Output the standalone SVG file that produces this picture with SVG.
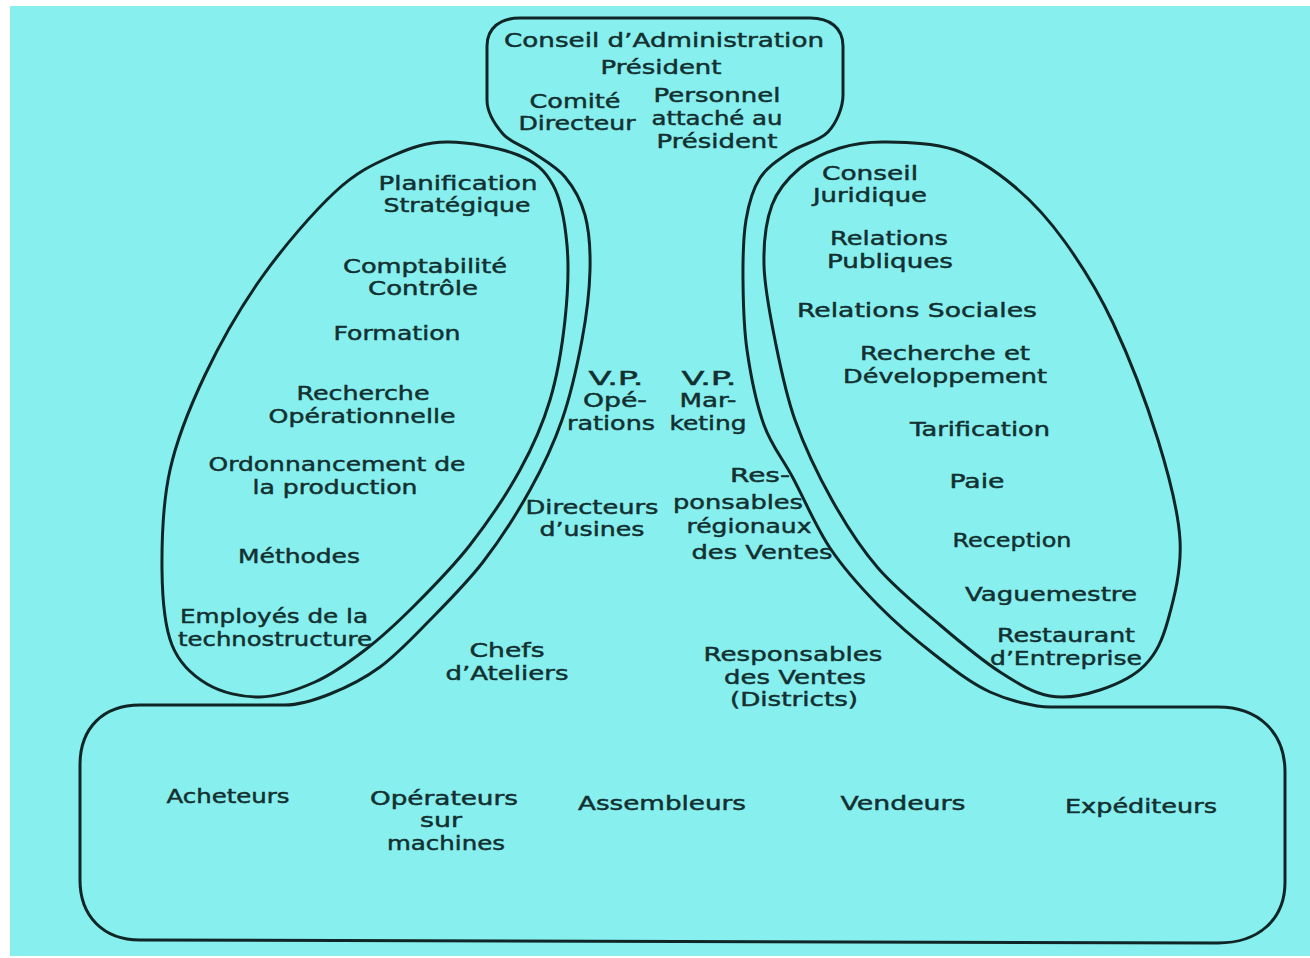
<svg xmlns="http://www.w3.org/2000/svg" width="1310" height="958" viewBox="0 0 1310 958">
<style>
.bg{fill:#88efef}
.ln{fill:none;stroke:#102626;stroke-width:3;stroke-linejoin:round}
text{font-family:"DejaVu Sans","Liberation Sans",sans-serif;font-size:19px;fill:#123030;stroke:#123030;stroke-width:0.45;text-anchor:middle}
</style>
<rect width="1310" height="958" fill="#ffffff"/>
<rect class="bg" x="10" y="6" width="1300" height="950"/>
<g id="outline">
<path class="ln" d="M487,100 L487,46 C487,28 500,18 520,18 L810,18 C830,18 843,28 843,46 L843,95 C843,107 836.8,122.5 828,132 C819.2,141.5 801.3,144.3 790,152 C778.7,159.7 767.3,166.7 760,178 C752.7,189.3 748.8,203 746,220 C743.2,237 742.8,258.3 743,280 C743.2,301.7 743.5,325.8 747,350 C750.5,374.2 756.3,403.7 764,425 C771.7,446.3 782,457.5 793,478 C804,498.5 815.8,526.8 830,548 C844.2,569.2 860.5,587.2 878,605 C895.5,622.8 916.3,640.5 935,655 C953.7,669.5 970.8,683.3 990,692 C1009.2,700.7 1035,707 1050,707 L1218,707 C1258,707 1285,732 1285,772 L1285,882 C1285,920 1258,943 1218,943 L140,940 C103,940 80,916 80,880 L80,765 C80,728 103,705 140,705 L285,705 C300,705 314.2,700.3 330,694 C345.8,687.7 363.7,679 380,667 C396.3,655 410.8,639.5 428,622 C445.2,604.5 466,584 483,562 C500,540 516.8,513.7 530,490 C543.2,466.3 553.3,445 562,420 C570.7,395 577.3,365 582,340 C586.7,315 589.5,290.8 590,270 C590.5,249.2 589.2,230.5 585,215 C580.8,199.5 573.8,187.5 565,177 C556.2,166.5 542.3,159.2 532,152 C521.7,144.8 510.5,142.7 503,134 C495.5,125.3 487,112 487,100 Z"/>
</g>
<g id="strategic-apex">
<text x="664" y="47" textLength="320" lengthAdjust="spacingAndGlyphs">Conseil d’Administration</text>
<text x="661" y="74" textLength="121" lengthAdjust="spacingAndGlyphs">Président</text>
<text x="575" y="108" textLength="91" lengthAdjust="spacingAndGlyphs">Comité</text>
<text x="577" y="130" textLength="117" lengthAdjust="spacingAndGlyphs">Directeur</text>
<text x="717" y="102" textLength="127" lengthAdjust="spacingAndGlyphs">Personnel</text>
<text x="717" y="125" textLength="131" lengthAdjust="spacingAndGlyphs">attaché au</text>
<text x="717" y="148" textLength="121" lengthAdjust="spacingAndGlyphs">Président</text>
</g>
<g id="technostructure">
<path class="ln" d="M447,142 C468,141.8 500.3,147.8 518,155 C535.7,162.2 544.8,170 553,185 C561.2,200 565,222.5 567,245 C569,267.5 567.8,294.2 565,320 C562.2,345.8 557.5,375 550,400 C542.5,425 533.3,445.8 520,470 C506.7,494.2 487.5,522.5 470,545 C452.5,567.5 432.5,587.5 415,605 C397.5,622.5 381.7,637.2 365,650 C348.3,662.8 332.5,674.2 315,682 C297.5,689.8 278,696.7 260,697 C242,697.3 221.7,692.7 207,684 C192.3,675.3 179.5,664 172,645 C164.5,626 162.3,599.2 162,570 C161.7,540.8 162.8,502.5 170,470 C177.2,437.5 189.7,407.2 205,375 C220.3,342.8 240.3,307.5 262,277 C283.7,246.5 313.3,212.2 335,192 C356.7,171.8 373.3,164.3 392,156 C410.7,147.7 426,142.2 447,142 Z"/>
<text x="458" y="190" textLength="159" lengthAdjust="spacingAndGlyphs">Planification</text>
<text x="457" y="212" textLength="147" lengthAdjust="spacingAndGlyphs">Stratégique</text>
<text x="425" y="273" textLength="164" lengthAdjust="spacingAndGlyphs">Comptabilité</text>
<text x="423" y="295" textLength="110" lengthAdjust="spacingAndGlyphs">Contrôle</text>
<text x="397" y="340" textLength="127" lengthAdjust="spacingAndGlyphs">Formation</text>
<text x="363" y="400" textLength="133" lengthAdjust="spacingAndGlyphs">Recherche</text>
<text x="362" y="423" textLength="187" lengthAdjust="spacingAndGlyphs">Opérationnelle</text>
<text x="337" y="471" textLength="257" lengthAdjust="spacingAndGlyphs">Ordonnancement de</text>
<text x="335" y="494" textLength="165" lengthAdjust="spacingAndGlyphs">la production</text>
<text x="299" y="563" textLength="122" lengthAdjust="spacingAndGlyphs">Méthodes</text>
<text x="274" y="623" textLength="188" lengthAdjust="spacingAndGlyphs">Employés de la</text>
<text x="275" y="646" textLength="194" lengthAdjust="spacingAndGlyphs">technostructure</text>
</g>
<g id="support-staff">
<path class="ln" d="M885,142 C904.2,142.3 933.3,142.5 955,150 C976.7,157.5 996.7,171.7 1015,187 C1033.3,202.3 1048.7,219.3 1065,242 C1081.3,264.7 1097.5,290 1113,323 C1128.5,356 1146.8,403.8 1158,440 C1169.2,476.2 1178.3,510 1180,540 C1181.7,570 1173.8,599.2 1168,620 C1162.2,640.8 1156.3,653.3 1145,665 C1133.7,676.7 1115.8,684.8 1100,690 C1084.2,695.2 1066.7,699 1050,696 C1033.3,693 1018.3,683.8 1000,672 C981.7,660.2 960.3,642.3 940,625 C919.7,607.7 896,588.8 878,568 C860,547.2 845.8,524.7 832,500 C818.2,475.3 804.5,446.7 795,420 C785.5,393.3 780.2,365.8 775,340 C769.8,314.2 764.5,287.5 764,265 C763.5,242.5 766,221.2 772,205 C778,188.8 788.7,177.5 800,168 C811.3,158.5 825.8,152.3 840,148 C854.2,143.7 865.8,141.7 885,142 Z"/>
<text x="870" y="180" textLength="96" lengthAdjust="spacingAndGlyphs">Conseil</text>
<text x="870" y="202" textLength="114" lengthAdjust="spacingAndGlyphs">Juridique</text>
<text x="889" y="245" textLength="118" lengthAdjust="spacingAndGlyphs">Relations</text>
<text x="890" y="268" textLength="126" lengthAdjust="spacingAndGlyphs">Publiques</text>
<text x="917" y="317" textLength="240" lengthAdjust="spacingAndGlyphs">Relations Sociales</text>
<text x="945" y="360" textLength="170" lengthAdjust="spacingAndGlyphs">Recherche et</text>
<text x="945" y="383" textLength="204" lengthAdjust="spacingAndGlyphs">Développement</text>
<text x="980" y="436" textLength="140" lengthAdjust="spacingAndGlyphs">Tarification</text>
<text x="977" y="488" textLength="55" lengthAdjust="spacingAndGlyphs">Paie</text>
<text x="1012" y="547" textLength="119" lengthAdjust="spacingAndGlyphs">Reception</text>
<text x="1051" y="601" textLength="172" lengthAdjust="spacingAndGlyphs">Vaguemestre</text>
<text x="1066" y="642" textLength="138" lengthAdjust="spacingAndGlyphs">Restaurant</text>
<text x="1066" y="665" textLength="152" lengthAdjust="spacingAndGlyphs">d’Entreprise</text>
</g>
<g id="middle-line">
<text x="616" y="385" textLength="55" lengthAdjust="spacingAndGlyphs">V.P.</text>
<text x="615" y="407" textLength="64" lengthAdjust="spacingAndGlyphs">Opé-</text>
<text x="611" y="430" textLength="88" lengthAdjust="spacingAndGlyphs">rations</text>
<text x="709" y="385" textLength="55" lengthAdjust="spacingAndGlyphs">V.P.</text>
<text x="708" y="407" textLength="57" lengthAdjust="spacingAndGlyphs">Mar-</text>
<text x="708" y="430" textLength="77" lengthAdjust="spacingAndGlyphs">keting</text>
<text x="592" y="514" textLength="133" lengthAdjust="spacingAndGlyphs">Directeurs</text>
<text x="592" y="536" textLength="105" lengthAdjust="spacingAndGlyphs">d’usines</text>
<text x="760" y="482" textLength="60" lengthAdjust="spacingAndGlyphs">Res-</text>
<text x="738" y="509" textLength="130" lengthAdjust="spacingAndGlyphs">ponsables</text>
<text x="749" y="533" textLength="125" lengthAdjust="spacingAndGlyphs">régionaux</text>
<text x="762" y="559" textLength="141" lengthAdjust="spacingAndGlyphs">des Ventes</text>
<text x="507" y="657" textLength="75" lengthAdjust="spacingAndGlyphs">Chefs</text>
<text x="507" y="680" textLength="123" lengthAdjust="spacingAndGlyphs">d’Ateliers</text>
<text x="793" y="661" textLength="179" lengthAdjust="spacingAndGlyphs">Responsables</text>
<text x="795" y="684" textLength="142" lengthAdjust="spacingAndGlyphs">des Ventes</text>
<text x="794" y="706" textLength="128" lengthAdjust="spacingAndGlyphs">(Districts)</text>
</g>
<g id="operating-core">
<text x="228" y="803" textLength="123" lengthAdjust="spacingAndGlyphs">Acheteurs</text>
<text x="444" y="805" textLength="148" lengthAdjust="spacingAndGlyphs">Opérateurs</text>
<text x="441" y="827" textLength="42" lengthAdjust="spacingAndGlyphs">sur</text>
<text x="446" y="850" textLength="118" lengthAdjust="spacingAndGlyphs">machines</text>
<text x="662" y="810" textLength="168" lengthAdjust="spacingAndGlyphs">Assembleurs</text>
<text x="903" y="810" textLength="125" lengthAdjust="spacingAndGlyphs">Vendeurs</text>
<text x="1141" y="813" textLength="152" lengthAdjust="spacingAndGlyphs">Expéditeurs</text>
</g>
</svg>
